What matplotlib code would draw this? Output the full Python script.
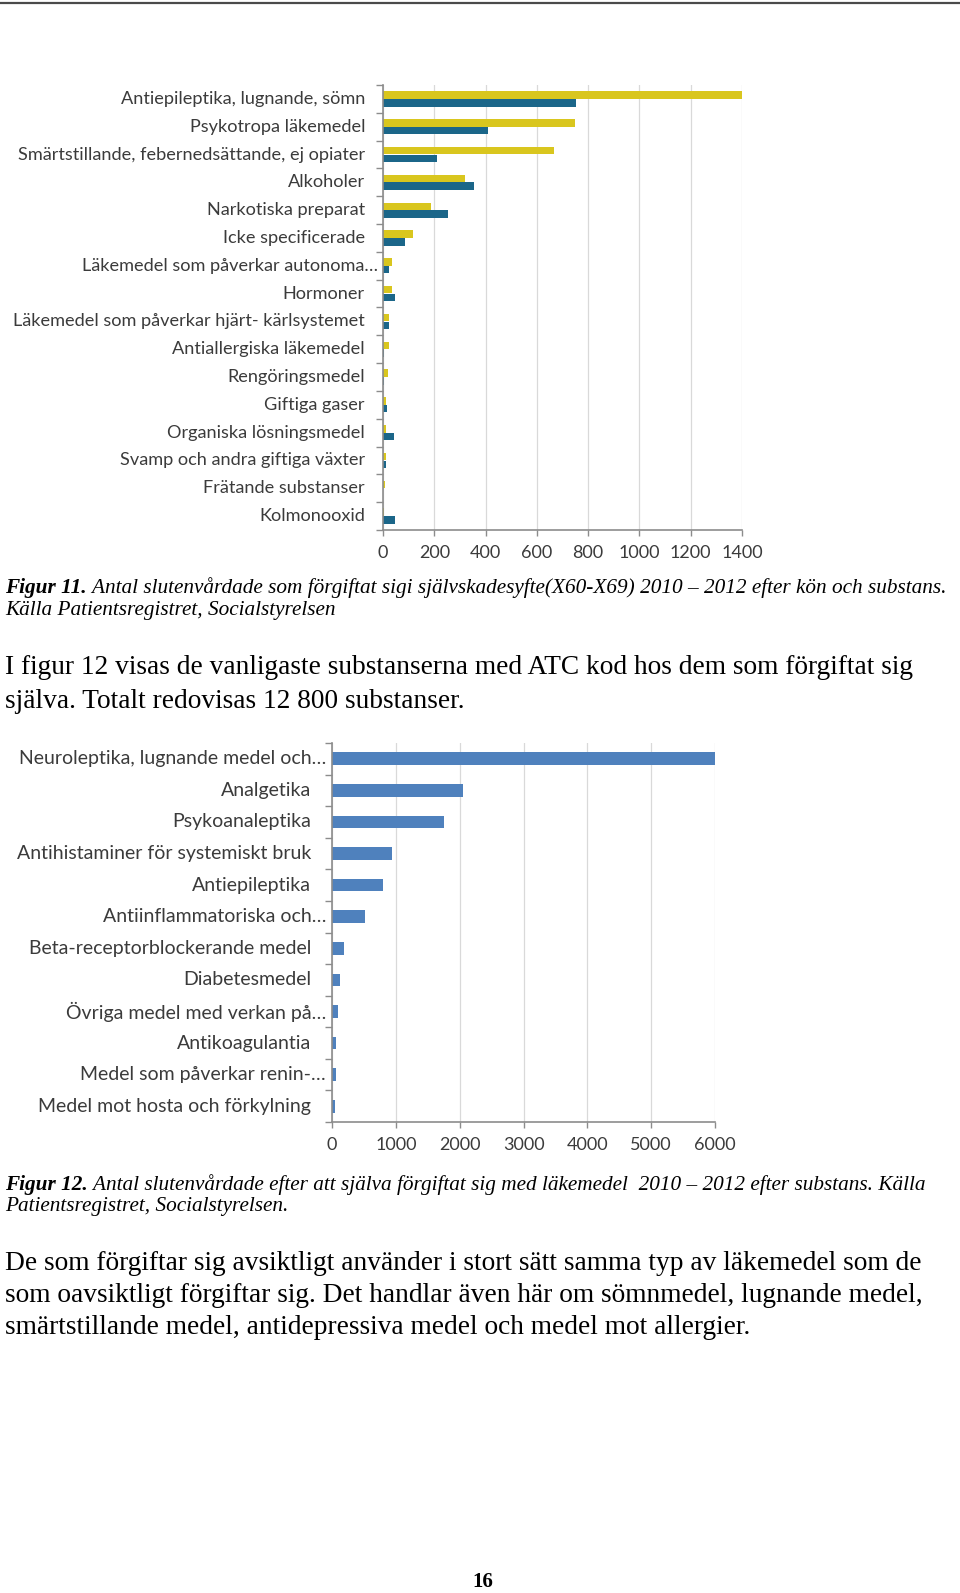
import numpy as np
import matplotlib.pyplot as plt
from matplotlib.lines import Line2D
from matplotlib.transforms import ScaledTranslation

# figur 11: antal per substans, två serier (gul / blå)
substans_11 = ["Antiepileptika, lugnande, sömn", "Psykotropa läkemedel",
               "Smärtstillande, febernedsättande, ej opiater", "Alkoholer",
               "Narkotiska preparat", "Icke specificerade",
               "Läkemedel som påverkar autonoma…", "Hormoner",
               "Läkemedel som påverkar hjärt- kärlsystemet",
               "Antiallergiska läkemedel", "Rengöringsmedel", "Giftiga gaser",
               "Organiska lösningsmedel", "Svamp och andra giftiga växter",
               "Frätande substanser", "Kolmonooxid"]
serie_gul = [1405, 750, 667, 319, 186, 118, 36, 36, 23, 22, 18, 13, 13, 10, 9, 3]
serie_bla = [753, 409, 210, 354, 254, 86, 23, 46, 23, 5, 5, 14, 42, 10, 1, 46]
xticks_11 = [0, 200, 400, 600, 800, 1000, 1200, 1400]

# figur 12: antal per ATC-grupp
substans_12 = ["Neuroleptika, lugnande medel och…", "Analgetika", "Psykoanaleptika",
               "Antihistaminer för systemiskt bruk", "Antiepileptika",
               "Antiinflammatoriska och…", "Beta-receptorblockerande medel",
               "Diabetesmedel", "Övriga medel med verkan på…", "Antikoagulantia",
               "Medel som påverkar renin-…", "Medel mot hosta och förkylning"]
antal_12 = [6000, 2045, 1748, 939, 798, 522, 188, 130, 89, 68, 68, 52]
xticks_12 = [0, 1000, 2000, 3000, 4000, 5000, 6000]

W, H = 960, 1593
GUL = "#D9C61E"
BLA = "#1B6689"
BLA2 = "#4F81BD"
GRID = "#D9D9D9"
AXEL = "#8C8C8C"
ETIKETT = "#3B3B3B"
SANS = "Lato"
SERIF = "Liberation Serif"

fig = plt.figure(figsize=(W / 100, H / 100), dpi=100)
fig.patch.set_facecolor("white")
fig.add_artist(Line2D([0, 1], [1 - 3 / H, 1 - 3 / H], color="#4A4A4A", lw=1.6))


def px_axes(left, top, right, bottom):
    return fig.add_axes([left / W, 1 - bottom / H, (right - left) / W, (bottom - top) / H])


def styla(ax, labels, xticks, fs, xfs, pad_vanlig, pad_ellips):
    n = len(labels)
    ax.set_ylim(n - 0.5, -0.5)
    ax.set_xlim(xticks[0], xticks[-1])
    ax.set_xticks(xticks)
    ax.set_yticks(np.arange(n + 1) - 0.5)
    ax.set_yticklabels([])
    for s in ["top", "right"]:
        ax.spines[s].set_visible(False)
    for s in ["left", "bottom"]:
        ax.spines[s].set_color(AXEL)
        ax.spines[s].set_linewidth(1.2)
    ax.tick_params(axis="y", length=5, width=1.0, color=AXEL)
    ax.tick_params(axis="x", length=4, width=1.0, color=AXEL, pad=7,
                   labelsize=xfs, labelcolor=ETIKETT)
    for t in ax.get_xticklabels():
        t.set_family(SANS)
    ax.grid(axis="x", color=GRID, lw=0.9)
    ax.set_axisbelow(True)
    for i, lab in enumerate(labels):
        dx = pad_ellips if lab.endswith("…") else pad_vanlig
        tr = ax.get_yaxis_transform() + ScaledTranslation(-dx / 100, 0, fig.dpi_scale_trans)
        ax.text(0, i, lab, transform=tr, ha="right", va="center",
                fontsize=fs, family=SANS, color=ETIKETT)


# figur 11
ax1 = px_axes(383, 85, 742, 530)
y1 = np.arange(len(substans_11))
ax1.barh(y1 - 0.14, serie_gul, height=0.27, color=GUL)
ax1.barh(y1 + 0.14, serie_bla, height=0.27, color=BLA)
styla(ax1, substans_11, xticks_11, 13.1, 13, 18, 5)

# figur 12
ax2 = px_axes(332, 743, 715, 1122)
y2 = np.arange(len(substans_12))
ax2.barh(y2, antal_12, height=0.4, color=BLA2)
styla(ax2, substans_12, xticks_12, 14, 13, 21, 6)

renderer = fig.canvas.get_renderer()


def figurtext(y, fet, resten, fs):
    t = fig.text(5 / W, 1 - y / H, fet, fontsize=fs, family=SERIF, weight="bold",
                 style="italic", va="center")
    bb = t.get_window_extent(renderer)
    fig.text(bb.x1 / W, 1 - y / H, " " + resten, fontsize=fs, family=SERIF,
             style="italic", va="center")


def rad(y, txt, fs, **kw):
    fig.text(5 / W, 1 - y / H, txt, fontsize=fs, family=SERIF, va="center", **kw)


figurtext(588, "Figur 11.", "Antal slutenvårdade som förgiftat sigi självskadesyfte(X60-X69) "
          "2010 – 2012 efter kön och substans.", 15.3)
rad(610, "Källa Patientsregistret, Socialstyrelsen", 15.3, style="italic")

rad(668, "I figur 12 visas de vanligaste substanserna med ATC kod hos dem som förgiftat sig", 19.7)
rad(702, "själva. Totalt redovisas 12 800 substanser.", 19.7)

figurtext(1185, "Figur 12.", "Antal slutenvårdade efter att själva förgiftat sig med läkemedel  "
          "2010 – 2012 efter substans. Källa", 15.3)
rad(1207, "Patientsregistret, Socialstyrelsen.", 15.3, style="italic")

rad(1263, "De som förgiftar sig avsiktligt använder i stort sätt samma typ av läkemedel som de", 19.7)
rad(1295, "som oavsiktligt förgiftar sig. Det handlar även här om sömnmedel, lugnande medel,", 19.7)
rad(1328, "smärtstillande medel, antidepressiva medel och medel mot allergier.", 19.7)

fig.text(0.5 + 3 / W, 1 - 1582 / H, "16", fontsize=15, family=SERIF, weight="bold",
         ha="center", va="center")

fig.savefig("out.png", dpi=100)
